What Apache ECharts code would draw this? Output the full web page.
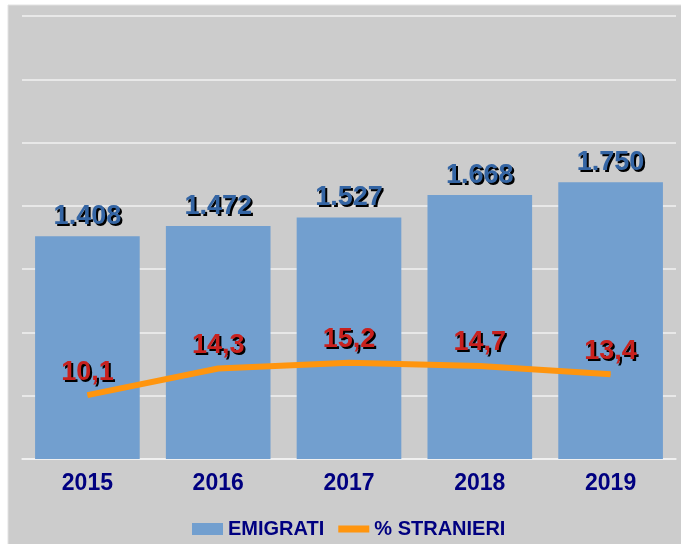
<!DOCTYPE html>
<html>
<head>
<meta charset="utf-8">
<script src="https://cdn.jsdelivr.net/npm/echarts@6/dist/echarts.min.js"></script>
<style>
html,body{margin:0;padding:0;background:#ffffff;}
#c{width:681px;height:544px;}
</style>
</head>
<body>
<div id="c"></div>
<script>
const categories = ['2015', '2016', '2017', '2018', '2019'];
const emigrati = [1408, 1472, 1527, 1668, 1750];
const stranieri = [10.1, 14.3, 15.2, 14.7, 13.4];
const seriesNames = ['EMIGRATI', '% STRANIERI'];

const FONT = '"Liberation Sans", Arial, sans-serif';
const chart = echarts.init(document.getElementById('c'), null, {renderer: 'canvas'});

function fmtThousands(v) {
  return String(v).replace(/\B(?=(\d{3})+(?!\d))/g, '.');
}
function fmtComma(v) {
  return v.toFixed(1).replace('.', ',');
}

const shadow = {textShadowColor: '#000000', textShadowOffsetX: 2, textShadowOffsetY: 2, textShadowBlur: 0.5};

chart.setOption({
  animation: false,
  backgroundColor: '#ffffff',
  graphic: [{
    type: 'rect',
    z: -10,
    shape: {x: 8, y: 5, width: 680, height: 545},
    style: {fill: '#cccccc', stroke: '#e2e2e2', lineWidth: 1}
  }],
  grid: {left: 22, right: 5, top: 16, bottom: 85, containLabel: false},
  legend: {
    left: 187,
    top: 514,
    itemWidth: 31,
    itemHeight: 12,
    itemGap: 14,
    textStyle: {fontFamily: FONT, fontWeight: 'bold', fontSize: 20, color: '#000080'},
    data: [
      {name: seriesNames[0], icon: 'rect'},
      {name: seriesNames[1], icon: 'path://M0,0L31,0L31,7L0,7Z'}
    ]
  },
  xAxis: {
    type: 'category',
    data: categories,
    axisLine: {show: true, lineStyle: {color: '#f2f2f2', width: 1.5}},
    axisTick: {show: false},
    axisLabel: {
      margin: 13,
      fontFamily: FONT, fontWeight: 'bold', fontSize: 23, color: '#000080'
    },
    splitLine: {show: false}
  },
  yAxis: [{
    type: 'value',
    min: 0, max: 2800, interval: 400,
    axisLabel: {show: false},
    axisLine: {show: false},
    axisTick: {show: false},
    splitLine: {show: true, lineStyle: {color: '#f2f2f2', width: 1.5}}
  }, {
    type: 'value',
    min: 0, max: 70, interval: 10,
    axisLabel: {show: false},
    axisLine: {show: false},
    axisTick: {show: false},
    splitLine: {show: false}
  }],
  series: [{
    name: seriesNames[0],
    type: 'bar',
    data: emigrati,
    barWidth: '80%',
    itemStyle: {color: '#729fcf'},
    label: Object.assign({
      show: true,
      position: 'top',
      distance: 6,
      formatter: p => fmtThousands(p.value),
      fontFamily: FONT, fontWeight: 'bold', fontSize: 27,
      color: '#3465a4'
    }, shadow)
  }, {
    name: seriesNames[1],
    type: 'line',
    yAxisIndex: 1,
    data: stranieri,
    symbol: 'circle',
    symbolSize: 1,
    showSymbol: true,
    lineStyle: {color: '#ff950e', width: 6},
    itemStyle: {color: '#ff950e'},
    z: 5,
    label: Object.assign({
      show: true,
      position: 'top',
      distance: 9,
      formatter: p => fmtComma(p.value),
      fontFamily: FONT, fontWeight: 'bold', fontSize: 27,
      color: '#c9211e'
    }, shadow)
  }]
});
</script>
</body>
</html>
